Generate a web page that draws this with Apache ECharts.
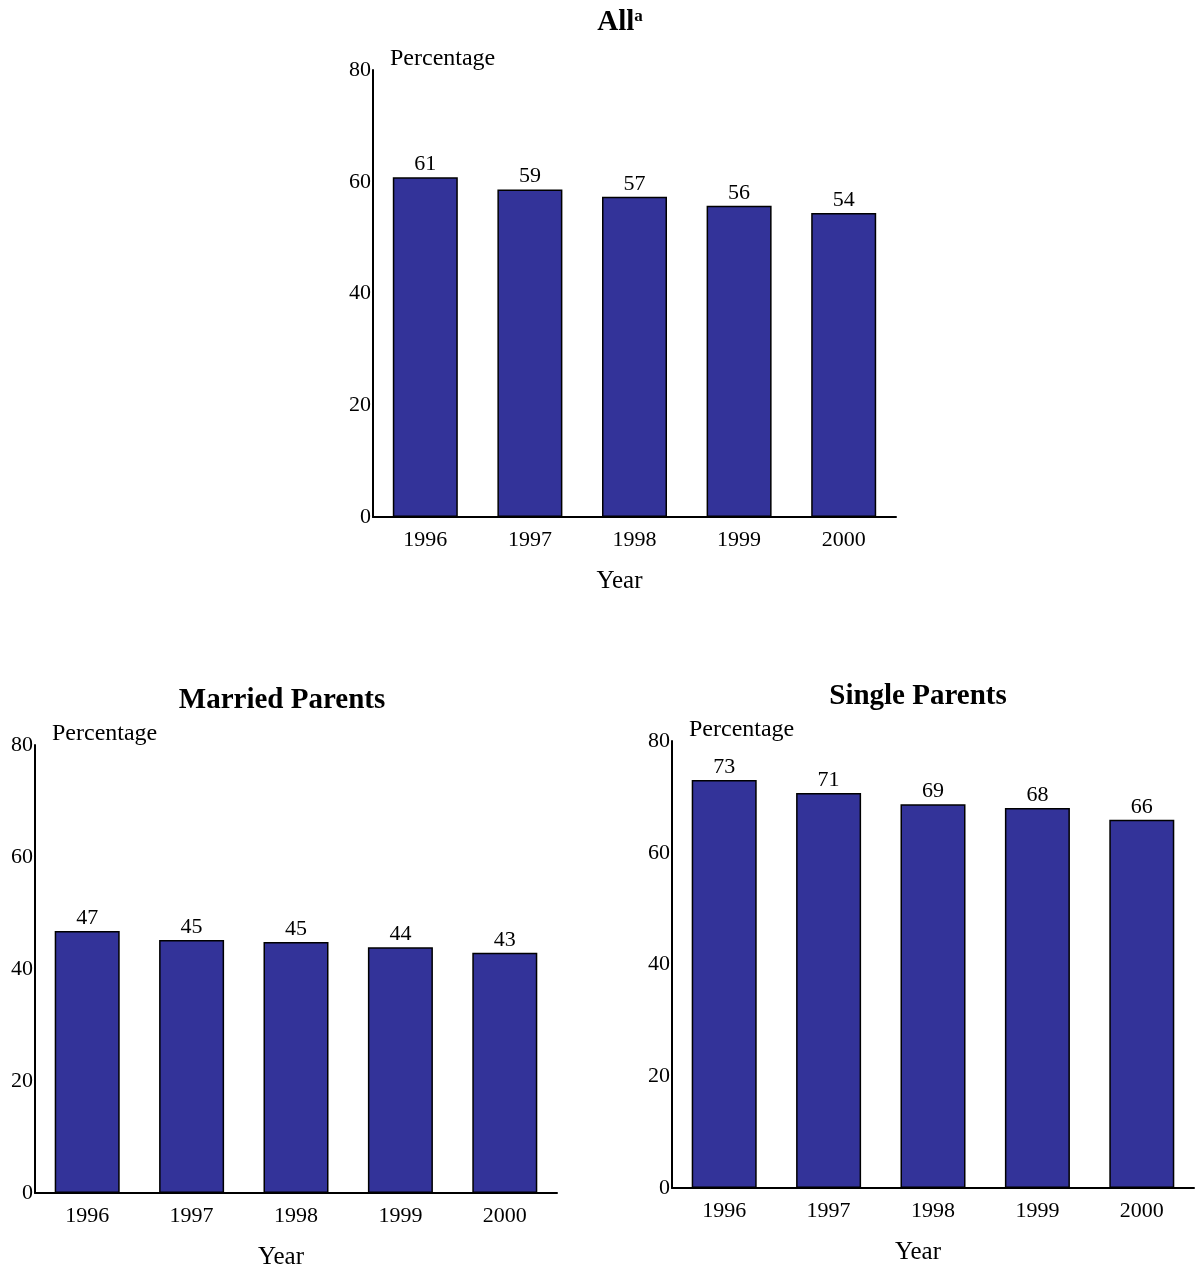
<!DOCTYPE html>
<html>
<head>
<meta charset="utf-8">
<script src="https://cdn.jsdelivr.net/npm/echarts@6/dist/echarts.min.js"></script>
<style>
html,body{margin:0;padding:0;background:#fff;}
#c{width:1196px;height:1268px;}
</style>
</head>
<body>
<div id="c"></div>
<script>
const years = ['1996', '1997', '1998', '1999', '2000'];
const allValues = [60.8, 58.6, 57.3, 55.7, 54.4];
const marriedValues = [46.8, 45.2, 44.8, 43.9, 42.9];
const singleValues = [73.0, 70.7, 68.7, 68.0, 65.9];
const yTicks = [0, 20, 40, 60, 80];

const FONT = '"Liberation Serif", "DejaVu Serif", serif';
const chart = echarts.init(document.getElementById('c'), null, {renderer: 'canvas'});

const grids = [
  {left: 373, top: 70, width: 523, height: 447, outerBoundsMode: 'none', containLabel: false},
  {left: 35, top: 745, width: 522, height: 448, outerBoundsMode: 'none', containLabel: false},
  {left: 672, top: 741, width: 522, height: 447, outerBoundsMode: 'none', containLabel: false}
];

function xAxis(i) {
  return {
    type: 'category', gridIndex: i, data: years,
    axisLine: {lineStyle: {color: '#000', width: 2}},
    axisTick: {show: false},
    axisLabel: {color: '#000', fontFamily: FONT, fontSize: 22, margin: 12},
    name: 'Year', nameLocation: 'middle', nameGap: 52,
    nameTextStyle: {color: '#000', fontFamily: FONT, fontSize: 25, padding: [0, 30, 0, 0]}
  };
}
function yAxis(i) {
  return {
    type: 'value', gridIndex: i, min: 0, max: 80, interval: 20,
    axisLine: {show: true, lineStyle: {color: '#000', width: 2}},
    axisTick: {show: false},
    splitLine: {show: false},
    axisLabel: {color: '#000', fontFamily: FONT, fontSize: 22, margin: 2,
      formatter: v => yTicks.includes(v) ? String(v) : ''},
    name: 'Percentage', nameLocation: 'end', nameGap: 11,
    nameTextStyle: {color: '#000', fontFamily: FONT, fontSize: 24, align: 'left', verticalAlign: 'middle', padding: [0, 0, 0, 17]}
  };
}
function series(i, data) {
  return {
    type: 'bar', xAxisIndex: i, yAxisIndex: i, data: data, barWidth: 65,
    itemStyle: {color: '#333399', borderColor: '#000', borderWidth: 1.5},
    label: {show: true, position: 'top', distance: 2, color: '#000', fontFamily: FONT, fontSize: 22,
      formatter: p => String(Math.round(p.value))},
    animation: false
  };
}

const titleStyle = {
  color: '#000', fontFamily: FONT, fontSize: 29, fontWeight: 'bold',
  rich: {
    b: {fontFamily: FONT, fontSize: 29, fontWeight: 'bold', color: '#000'},
    s: {fontFamily: FONT, fontSize: 17, fontWeight: 'bold', color: '#000', verticalAlign: 'top', padding: [0, 0, 13, 0]}
  }
};

chart.setOption({
  animation: false,
  backgroundColor: '#fff',
  title: [
    {text: '{b|All}{s|a}', left: 620, top: 8, padding: 0, textAlign: 'center', textStyle: titleStyle},
    {text: 'Married Parents', left: 282, top: 686, padding: 0, textAlign: 'center', textStyle: titleStyle},
    {text: 'Single Parents', left: 918, top: 682, padding: 0, textAlign: 'center', textStyle: titleStyle}
  ],
  grid: grids,
  xAxis: [xAxis(0), xAxis(1), xAxis(2)],
  yAxis: [yAxis(0), yAxis(1), yAxis(2)],
  series: [series(0, allValues), series(1, marriedValues), series(2, singleValues)]
});
</script>
</body>
</html>
